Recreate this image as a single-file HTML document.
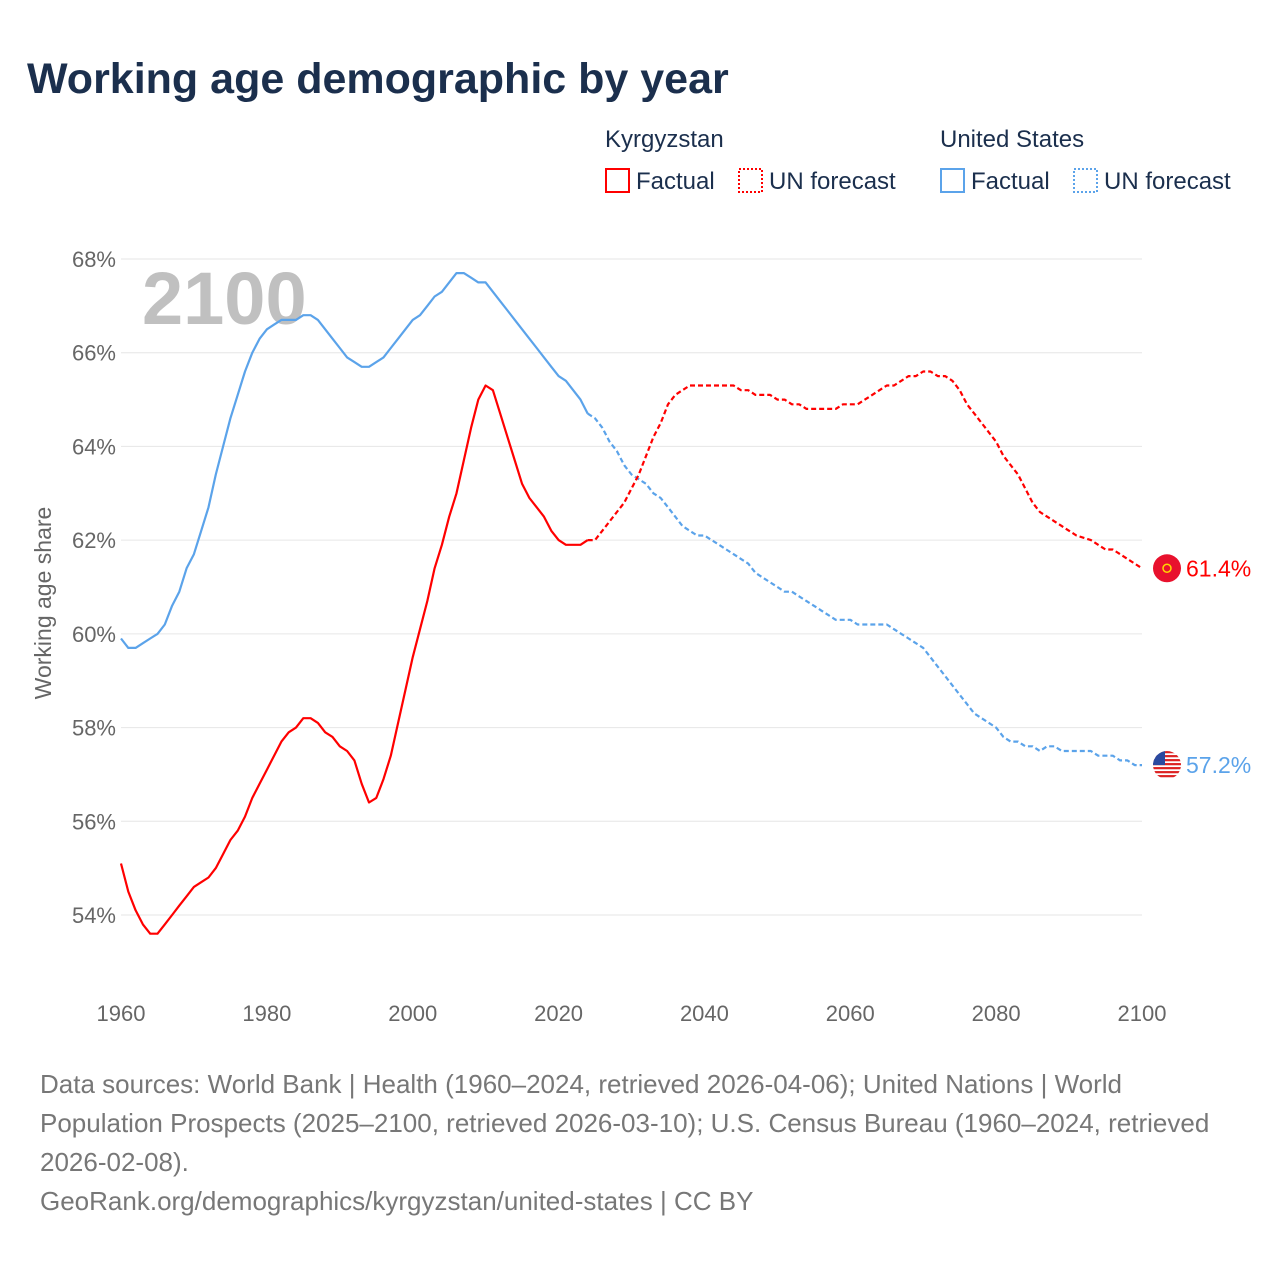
<!DOCTYPE html>
<html><head><meta charset="utf-8"><style>
body{margin:0;background:#fff;font-family:"Liberation Sans",sans-serif}
#wrap{position:relative;width:1280px;height:1280px;overflow:hidden}
svg text{font-family:"Liberation Sans",sans-serif}
</style></head><body>
<div id="wrap">
<svg id="chart" width="1280" height="1280">
<defs><clipPath id="usclip"><circle cx="1167" cy="0" r="14" id="usclipc"/></clipPath></defs>
<text x="27" y="93" font-size="43" font-weight="bold" fill="#1b2f4d">Working age demographic by year</text>
<g font-size="24" fill="#1b2f4d">
<text x="605" y="147">Kyrgyzstan</text>
<rect x="606" y="169" width="23" height="23" fill="none" stroke="#f00" stroke-width="2"/>
<text x="636" y="189">Factual</text>
<rect x="739" y="169" width="23" height="23" fill="none" stroke="#f00" stroke-width="2" stroke-dasharray="2,2"/>
<text x="769" y="189">UN forecast</text>
<text x="940" y="147">United States</text>
<rect x="941" y="169" width="23" height="23" fill="none" stroke="#5ba3ea" stroke-width="2"/>
<text x="971" y="189">Factual</text>
<rect x="1074" y="169" width="23" height="23" fill="none" stroke="#5ba3ea" stroke-width="2" stroke-dasharray="2,2"/>
<text x="1104" y="189">UN forecast</text>
</g>
<text x="142" y="324" font-size="74" font-weight="bold" fill="#c0c0c0">2100</text>
<g id="grid"></g><g id="lines"></g>
<text transform="translate(51,603) rotate(-90)" text-anchor="middle" font-size="23" fill="#666">Working age share</text>
<g font-size="26" fill="#777">
<text x="40" y="1093">Data sources: World Bank | Health (1960–2024, retrieved 2026-04-06); United Nations | World</text>
<text x="40" y="1132">Population Prospects (2025–2100, retrieved 2026-03-10); U.S. Census Bureau (1960–2024, retrieved</text>
<text x="40" y="1171">2026-02-08).</text>
<text x="40" y="1210">GeoRank.org/demographics/kyrgyzstan/united-states | CC BY</text>
</g>
</svg></div>
<script>
const yTicks=[54,56,58,60,62,64,66,68];
const xTicks=[1960,1980,2000,2020,2040,2060,2080,2100];
const kgFactualStart=1960;
const kgFactual=[55.1,54.5,54.1,53.8,53.6,53.6,53.8,54.0,54.2,54.4,54.6,54.7,54.8,55.0,55.3,55.6,55.8,56.1,56.5,56.8,57.1,57.4,57.7,57.9,58.0,58.2,58.2,58.1,57.9,57.8,57.6,57.5,57.3,56.8,56.4,56.5,56.9,57.4,58.1,58.8,59.5,60.1,60.7,61.4,61.9,62.5,63.0,63.7,64.4,65.0,65.3,65.2,64.7,64.2,63.7,63.2,62.9,62.7,62.5,62.2,62.0,61.9,61.9,61.9,62.0];
const kgForecast=[62.0,62.2,62.4,62.6,62.8,63.1,63.4,63.8,64.2,64.5,64.9,65.1,65.2,65.3,65.3,65.3,65.3,65.3,65.3,65.3,65.2,65.2,65.1,65.1,65.1,65.0,65.0,64.9,64.9,64.8,64.8,64.8,64.8,64.8,64.9,64.9,64.9,65.0,65.1,65.2,65.3,65.3,65.4,65.5,65.5,65.6,65.6,65.5,65.5,65.4,65.2,64.9,64.7,64.5,64.3,64.1,63.8,63.6,63.4,63.1,62.8,62.6,62.5,62.4,62.3,62.2,62.1,62.05,62.0,61.9,61.8,61.8,61.7,61.6,61.5,61.4];
const usFactual=[59.9,59.7,59.7,59.8,59.9,60.0,60.2,60.6,60.9,61.4,61.7,62.2,62.7,63.4,64.0,64.6,65.1,65.6,66.0,66.3,66.5,66.6,66.7,66.7,66.7,66.8,66.8,66.7,66.5,66.3,66.1,65.9,65.8,65.7,65.7,65.8,65.9,66.1,66.3,66.5,66.7,66.8,67.0,67.2,67.3,67.5,67.7,67.7,67.6,67.5,67.5,67.3,67.1,66.9,66.7,66.5,66.3,66.1,65.9,65.7,65.5,65.4,65.2,65.0,64.7];
const usForecast=[64.6,64.4,64.1,63.9,63.6,63.4,63.3,63.2,63.0,62.9,62.7,62.5,62.3,62.2,62.1,62.1,62.0,61.9,61.8,61.7,61.6,61.5,61.3,61.2,61.1,61.0,60.9,60.9,60.8,60.7,60.6,60.5,60.4,60.3,60.3,60.3,60.2,60.2,60.2,60.2,60.2,60.1,60.0,59.9,59.8,59.7,59.5,59.3,59.1,58.9,58.7,58.5,58.3,58.2,58.1,58.0,57.8,57.7,57.7,57.6,57.6,57.5,57.6,57.6,57.5,57.5,57.5,57.5,57.5,57.4,57.4,57.4,57.3,57.3,57.2,57.2];
const forecastStart=2025;
const NS="http://www.w3.org/2000/svg";
const X=y=>121+(y-1960)*(1021/140);
const Y=v=>259+(68-v)*(656/14);
const grid=document.getElementById('grid'),lines=document.getElementById('lines');
function mk(t,a,p){const e=document.createElementNS(NS,t);for(const k in a)e.setAttribute(k,a[k]);p.appendChild(e);return e;}
yTicks.forEach(v=>{
 const l=mk('line',{x1:121,x2:1142,y1:Y(v),y2:Y(v),stroke:'#e6e6e6','stroke-width':1},grid);
 
 
 const t=mk('text',{x:116,y:Y(v)+8,'text-anchor':'end','font-size':22,fill:'#666'},grid);t.textContent=v+'%';
 
 
});
xTicks.forEach(y=>{
 const t=mk('text',{x:X(y),y:1021,'text-anchor':'middle','font-size':22,fill:'#666'},grid);t.textContent=y;
 
 
});
function path(vals,start,prev,color,dash,name){
 let pts=[];if(prev!=null)pts.push([X(start-1),Y(prev)]);
 vals.forEach((v,i)=>pts.push([X(start+i),Y(v)]));
 const p=mk('path',{d:'M'+pts.map(q=>q[0].toFixed(1)+','+q[1].toFixed(1)).join('L'),fill:'none',stroke:color,'stroke-width':2.2,'stroke-linejoin':'round'},lines);
 if(dash)p.setAttribute('stroke-dasharray','5,3');
 
 
}
path(usFactual,kgFactualStart,null,'#5ba3ea',false,'us-factual-line');
path(usForecast,forecastStart,usFactual[usFactual.length-1],'#5ba3ea',true,'us-forecast-line');
path(kgFactual,kgFactualStart,null,'#f00',false,'kg-factual-line');
path(kgForecast,forecastStart,kgFactual[kgFactual.length-1],'#f00',true,'kg-forecast-line');
const kgEnd=kgForecast[kgForecast.length-1],usEnd=usForecast[usForecast.length-1];
const c1=mk('circle',{cx:1167,cy:Y(kgEnd),r:14,fill:'#e8112d'},lines);


mk('circle',{cx:1167,cy:Y(kgEnd),r:4,fill:'none',stroke:'#ffd700','stroke-width':1.5},lines);
const t1=mk('text',{x:1186,y:Y(kgEnd)+8,'font-size':23,fill:'#f00'},lines);t1.textContent=kgEnd.toFixed(1)+'%';


const cy=Y(usEnd);
document.getElementById('usclipc').setAttribute('cy',cy);
const g=mk('g',{'clip-path':'url(#usclip)'},lines);


mk('circle',{cx:1167,cy:cy,r:14,fill:'#fff'},g);
for(let i=0;i<7;i++){mk('rect',{x:1153,y:cy-14+i*4,width:28,height:2.2,fill:'#d22'},g);}
mk('rect',{x:1153,y:cy-14,width:12,height:14,fill:'#2a4aa0'},g);
const t2=mk('text',{x:1186,y:cy+8,'font-size':23,fill:'#5ba3ea'},lines);t2.textContent=usEnd.toFixed(1)+'%';


</script>
</body></html>
